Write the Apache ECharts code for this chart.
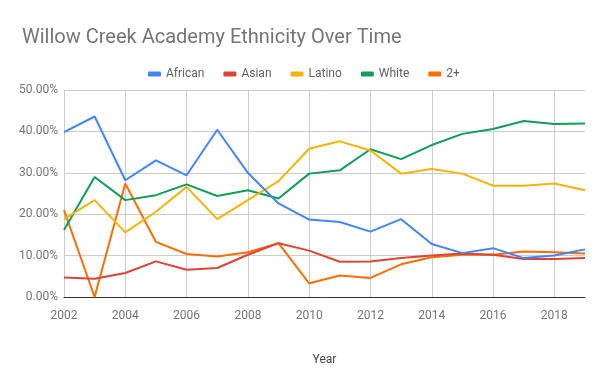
<!DOCTYPE html>
<html><head><meta charset="utf-8">
<script src="https://cdn.jsdelivr.net/npm/echarts@6/dist/echarts.min.js"></script>
<style>html,body{margin:0;padding:0;background:#fff}#c{width:600px;height:371px}</style>
</head><body><div id="c"></div>
<script>
const years = ['2002','2003','2004','2005','2006','2007','2008','2009','2010','2011','2012','2013','2014','2015','2016','2017','2018','2019'];
const african = [39.8,43.6,28.2,33.0,29.4,40.4,30.0,22.6,18.7,18.1,15.8,18.8,12.8,10.6,11.8,9.4,10.0,11.5];
const asian   = [4.7,4.4,5.8,8.6,6.6,7.0,10.2,13.0,11.2,8.5,8.6,9.4,10.0,10.5,10.2,9.2,9.2,9.4];
const latino  = [18.8,23.4,15.6,20.6,26.6,18.8,23.4,28.0,35.8,37.6,35.4,29.8,30.9,29.8,26.9,26.9,27.4,25.8];
const white   = [16.2,29.0,23.4,24.6,27.2,24.4,25.8,23.8,29.8,30.6,35.7,33.3,36.7,39.4,40.6,42.5,41.8,41.9];
const multi   = [21.0,0.0,27.4,13.3,10.4,9.8,10.8,13.0,3.3,5.2,4.6,7.9,9.6,10.2,10.2,11.0,10.8,10.5];
const seriesNames = ['African','Asian','Latino','White','2+'];
const seriesData = [african, asian, latino, white, multi];
const colors = ['#4285F4','#DB4437','#F4B400','#0F9D58','#FF6D00'];

const chart = echarts.init(document.getElementById('c'));
chart.setOption({
  animation: false,
  color: colors,
  textStyle: {fontFamily: 'Roboto'},
  title: {
    text: 'Willow Creek Academy Ethnicity Over Time',
    left: 17, top: 23,
    textStyle: {fontFamily: 'Roboto', fontSize: 20, fontWeight: 'normal', color: '#757575'}
  },
  legend: {
    left: 143, top: 63,
    icon: 'roundRect', itemWidth: 13, itemHeight: 5, itemGap: 19,
    textStyle: {fontFamily: 'Roboto', fontSize: 12, color: '#616161'},
    data: seriesNames
  },
  grid: {left: 64, right: 15, top: 90, bottom: 73, containLabel: false},
  xAxis: {
    type: 'category', data: years, boundaryGap: false,
    name: 'Year', nameLocation: 'middle', nameGap: 57,
    nameTextStyle: {fontFamily: 'Roboto', fontSize: 12, color: '#444'},
    axisLine: {lineStyle: {color: '#333', width: 1}},
    axisTick: {show: false},
    axisLabel: {interval: 1, margin: 13, fontSize: 12, color: '#757575'},
    splitLine: {show: true, interval: 1, lineStyle: {color: '#ccc'}}
  },
  yAxis: {
    type: 'value', min: 0, max: 50, interval: 10,
    axisLine: {show: false}, axisTick: {show: false},
    axisLabel: {margin: 6, fontSize: 12, color: '#757575', formatter: v => v.toFixed(2) + '%'},
    splitLine: {lineStyle: {color: '#ccc'}}
  },
  series: seriesNames.map((n, i) => ({
    name: n, type: 'line', data: seriesData[i], symbol: 'none',
    lineStyle: {width: 2}, z: 10 - i
  }))
});
</script></body></html>
